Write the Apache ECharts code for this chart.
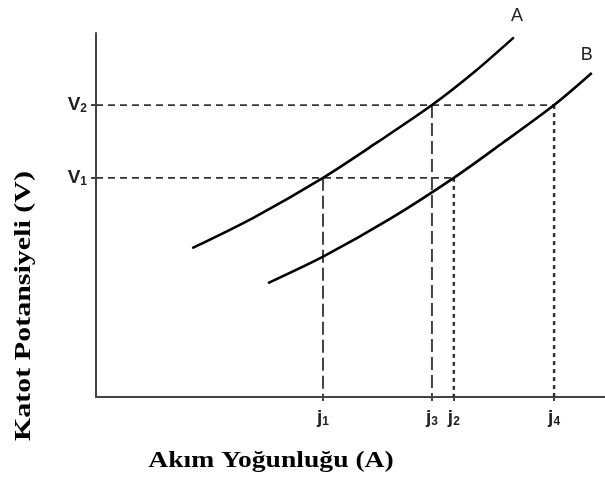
<!DOCTYPE html>
<html>
<head>
<meta charset="utf-8">
<script src="https://cdn.jsdelivr.net/npm/echarts@6/dist/echarts.min.js"></script>
<style>
  html, body { margin: 0; padding: 0; background: #fff; }
  #chart { width: 605px; height: 479px; }
</style>
</head>
<body>
<div id="chart"></div>
<script>
// Current density marks on the x axis and cathode potential marks on the y axis
const jValues = [44.6, 66.0, 70.3, 90.0];
const jNames = ['1', '3', '2', '4'];
const vValues = [60.2, 80.2];
const vNames = ['1', '2'];

// Polarization curves (x: current density, y: cathode potential)
const curveA = [[18.9, 40.9], [31.0, 49.3], [44.6, 60.2], [55.3, 70.0],
                [66.0, 80.2], [74.5, 89.5], [82.1, 98.8]];
const curveB = [[33.8, 31.3], [44.8, 38.7], [57.5, 48.7], [70.3, 60.2],
                [80.0, 69.9], [90.0, 80.2], [97.4, 89.0]];

const axisColor = '#444';
const guideColor = '#333';

function lineSeries(data, style) {
  return { type: 'line', data: data, symbol: 'none', silent: true, lineStyle: style, z: 2 };
}

// Dashed guides: horizontal to curve B, vertical drops to the axis
const guides = [
  lineSeries([[0, vValues[0]], [jValues[2], vValues[0]]], { color: guideColor, width: 1.8, type: [7, 5] }),
  lineSeries([[0, vValues[1]], [jValues[3], vValues[1]]], { color: guideColor, width: 1.8, type: [7, 5] }),
  lineSeries([[jValues[0], vValues[0]], [jValues[0], 0]], { color: axisColor, width: 2, type: [13, 5] }),
  lineSeries([[jValues[1], vValues[1]], [jValues[1], 0]], { color: axisColor, width: 2, type: [13, 5] }),
  lineSeries([[jValues[2], vValues[0]], [jValues[2], 0]], { color: guideColor, width: 2.5, type: [4, 4] }),
  lineSeries([[jValues[3], vValues[1]], [jValues[3], 0]], { color: guideColor, width: 2.5, type: [4, 4] })
];

function curveSeries(points, name, offset) {
  return {
    type: 'line', name: name, data: points, smooth: 0.3, symbol: 'none',
    lineStyle: { color: '#000', width: 2.6 }, z: 3,
    endLabel: {
      show: true, formatter: name, distance: 0, offset: offset,
      align: 'center', verticalAlign: 'middle',
      fontFamily: 'Liberation Sans', fontSize: 18, color: '#222'
    }
  };
}

const subRich = {
  m: { fontFamily: 'Liberation Sans', fontSize: 19, fontWeight: 'bold', color: '#222' },
  s: { fontFamily: 'Liberation Sans', fontSize: 12, fontWeight: 'bold', color: '#222', verticalAlign: 'bottom', padding: [8, 0, 0, 0] }
};

const chart = echarts.init(document.getElementById('chart'), null, { renderer: 'canvas' });
chart.setOption({
  animation: false,
  backgroundColor: '#fff',
  grid: { left: 96, right: 0, top: 33, bottom: 82, containLabel: false },
  xAxis: {
    type: 'value', min: 0, max: 100,
    axisLine: { show: true, lineStyle: { color: axisColor, width: 2 } },
    axisTick: { show: true, customValues: jValues, length: 4, lineStyle: { color: axisColor, width: 2 } },
    axisLabel: {
      show: true, customValues: jValues, margin: 11,
      formatter: v => '{m|j}{s|' + jNames[jValues.indexOf(v)] + '}',
      rich: subRich
    },
    splitLine: { show: false }
  },
  yAxis: {
    type: 'value', min: 0, max: 100,
    axisLine: { show: true, lineStyle: { color: axisColor, width: 2 } },
    axisTick: { show: true, customValues: vValues, length: 5, lineStyle: { color: axisColor, width: 2 } },
    axisLabel: {
      show: true, customValues: vValues, margin: 9,
      formatter: v => '{m|V}{s|' + vNames[vValues.indexOf(v)] + '}',
      rich: subRich
    },
    splitLine: { show: false }
  },
  graphic: [
    {
      type: 'text', x: 271, y: 461, scaleX: 1.15, silent: true,
      style: {
        text: 'Akım Yoğunluğu (A)', fontFamily: 'Liberation Serif', fontWeight: 'bold',
        fontSize: 24, fill: '#000', align: 'center', verticalAlign: 'middle'
      }
    },
    {
      type: 'text', x: 24, y: 306, rotation: Math.PI / 2, scaleX: 1.25, silent: true,
      style: {
        text: 'Katot Potansiyeli (V)', fontFamily: 'Liberation Serif', fontWeight: 'bold',
        fontSize: 24, fill: '#000', align: 'center', verticalAlign: 'middle'
      }
    }
  ],
  series: guides.concat([
    curveSeries(curveA, 'A', [3, -21]),
    curveSeries(curveB, 'B', [-5, -18])
  ])
});
</script>
</body>
</html>
